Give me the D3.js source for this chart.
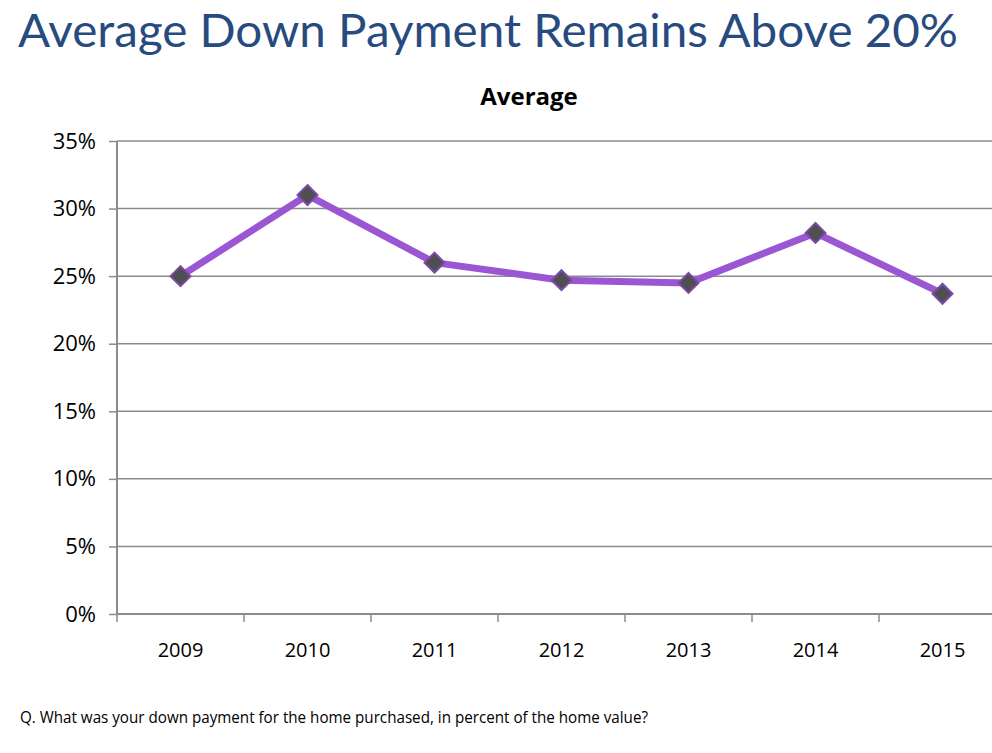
<!DOCTYPE html>
<html><head><meta charset="utf-8">
<script src="https://cdn.jsdelivr.net/npm/d3@7"></script>
<style>body{margin:0;background:#fff;overflow:hidden}</style>
</head><body>
<svg id="c" width="992" height="753"></svg>
<script>
const years = ["2009","2010","2011","2012","2013","2014","2015"];
const values = [25.0, 31.0, 26.0, 24.7, 24.5, 28.2, 23.7];
const yTicks = [0,5,10,15,20,25,30,35];

(function(){
const svg = d3.select("#c");
const pLeft = 117, pRight = 1006, pTop = 141, pBottom = 614;
const x = d3.scaleBand().domain(years).range([pLeft, pRight]);
const y = d3.scaleLinear().domain([0,35]).range([pBottom, pTop]);

svg.append("text").attr("x",18).attr("y",47).attr("fill","#284b7f")
  .attr("font-family","Lato, 'Open Sans', sans-serif").attr("font-size",46)
  .attr("textLength",940).attr("lengthAdjust","spacingAndGlyphs")
  .text("Average Down Payment Remains Above 20%");

svg.append("text").attr("x",529).attr("y",105).attr("text-anchor","middle")
  .attr("font-family","'Open Sans', sans-serif").attr("font-weight","bold").attr("font-size",24)
  .attr("fill","#000").text("Average");

svg.append("g").selectAll("line").data(yTicks.filter(d=>d>0)).join("line")
  .attr("x1",pLeft).attr("x2",992).attr("y1",d=>y(d)).attr("y2",d=>y(d))
  .attr("stroke","#8c8c8c").attr("stroke-width",1.5);

const ya = svg.append("g").attr("transform",`translate(${pLeft},0)`)
  .call(d3.axisLeft(y).tickValues(yTicks).tickFormat(d=>d+"%").tickSize(8).tickPadding(13));
ya.select(".domain").attr("stroke","#8c8c8c").attr("stroke-width",2).attr("d",`M0,${pTop}V${pBottom}`);
ya.selectAll(".tick line").attr("stroke","#8c8c8c").attr("stroke-width",1.5);
ya.selectAll("text").attr("font-family","'Open Sans', sans-serif").attr("font-size",22).attr("fill","#000");

const xa = svg.append("g").attr("transform",`translate(0,${pBottom})`)
  .call(d3.axisBottom(x).tickSize(0).tickPadding(29));
xa.select(".domain").attr("stroke","#8c8c8c").attr("stroke-width",2).attr("d",`M${pLeft},0H992`);
xa.selectAll("text").attr("font-family","'Open Sans', sans-serif").attr("font-size",20).attr("fill","#000");
svg.append("g").selectAll("line").data(d3.range(years.length+1)).join("line")
  .attr("x1",i=>pLeft+i*x.step()).attr("x2",i=>pLeft+i*x.step())
  .attr("y1",pBottom).attr("y2",pBottom+8).attr("stroke","#8c8c8c").attr("stroke-width",1.5);

const cx = d=>x(d)+x.bandwidth()/2;
const line = d3.line().x((d,i)=>cx(years[i])).y(d=>y(d));
svg.append("path").datum(values).attr("d",line).attr("fill","none")
  .attr("stroke","#9b57d3").attr("stroke-width",7).attr("stroke-linejoin","round");

svg.append("g").selectAll("path").data(values).join("path")
  .attr("transform",(d,i)=>`translate(${cx(years[i])},${y(d)})`)
  .attr("d","M0,-10L10,0L0,10L-10,0Z")
  .attr("fill","#4f4f52").attr("stroke","#7c4aa8").attr("stroke-width",2);

svg.append("text").attr("x",20).attr("y",723)
  .attr("font-family","'Liberation Sans Narrow', 'Open Sans', sans-serif").attr("font-size",16)
  .attr("textLength",628).attr("lengthAdjust","spacingAndGlyphs")
  .text("Q.  What was your down payment for the home purchased, in percent of the home value?");
})();
</script>
</body></html>
